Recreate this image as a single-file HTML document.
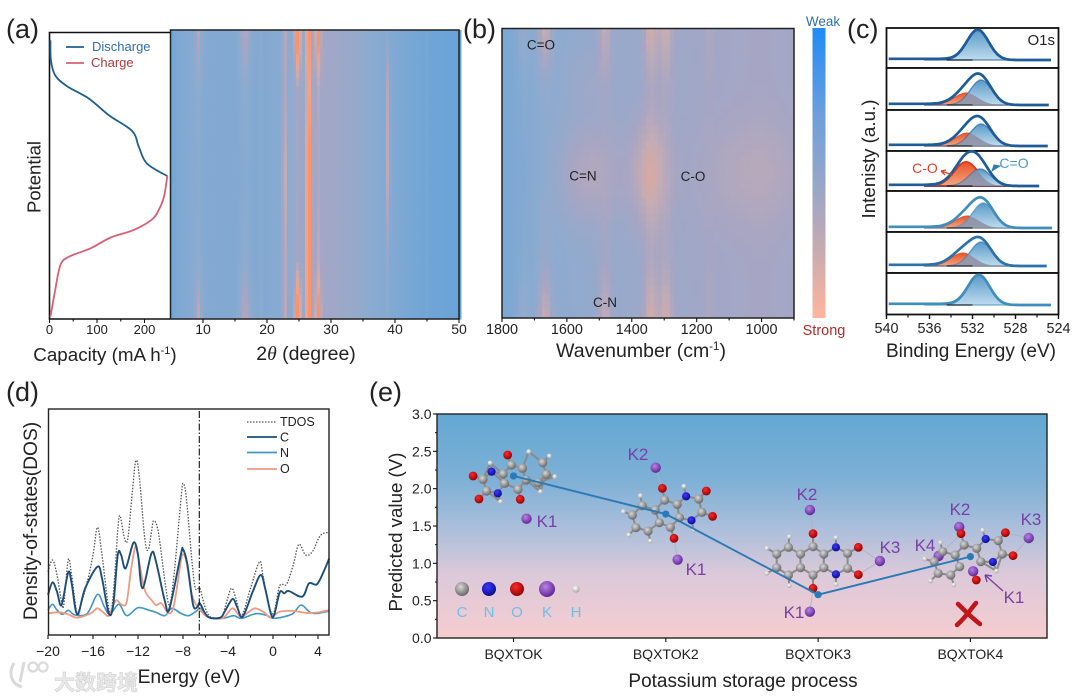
<!DOCTYPE html>
<html lang="en">
<head>
<meta charset="utf-8">
<title>Battery characterisation figure</title>
<style>
html,body{margin:0;padding:0;background:#fff;width:1074px;height:696px;overflow:hidden}
svg{display:block;font-family:"Liberation Sans","Noto Sans CJK SC",sans-serif}
</style>
</head>
<body>
<svg id="fig" xmlns="http://www.w3.org/2000/svg" width="1074" height="696" viewBox="0 0 1074 696">
<defs>
<linearGradient id="eBg" x1="0" y1="0" x2="0" y2="1"><stop offset="0" stop-color="#62a8d3"/><stop offset=".3" stop-color="#7fb0d6"/><stop offset=".5" stop-color="#a9bedb"/><stop offset=".72" stop-color="#dcc9da"/><stop offset="1" stop-color="#f6cdd0"/></linearGradient>
<linearGradient id="barGrad" x1="0" y1="0" x2="0" y2="1"><stop offset="0" stop-color="#1f8bf5"/><stop offset=".3" stop-color="#6d9fdc"/><stop offset=".55" stop-color="#9aa6c8"/><stop offset=".75" stop-color="#c3aab2"/><stop offset="1" stop-color="#ffb59c"/></linearGradient>
<linearGradient id="blueFill" x1="0" y1="0" x2="0" y2="1"><stop offset="0" stop-color="#5a9ac8"/><stop offset="1" stop-color="#bedbee"/></linearGradient>
<linearGradient id="orangeFill" x1="0" y1="0" x2="0" y2="1"><stop offset="0" stop-color="#e8542a"/><stop offset="1" stop-color="#f6a57f"/></linearGradient>
<radialGradient id="atomC" cx=".4" cy=".35" r=".7"><stop offset="0" stop-color="#d8d8d8"/><stop offset="1" stop-color="#606060"/></radialGradient>
<radialGradient id="atomN" cx=".4" cy=".35" r=".7"><stop offset="0" stop-color="#3a3aff"/><stop offset="1" stop-color="#08088a"/></radialGradient>
<radialGradient id="atomO" cx=".4" cy=".35" r=".7"><stop offset="0" stop-color="#ff2a2a"/><stop offset="1" stop-color="#8a0000"/></radialGradient>
<radialGradient id="atomK" cx=".4" cy=".35" r=".7"><stop offset="0" stop-color="#b884e6"/><stop offset="1" stop-color="#5a2090"/></radialGradient>
<radialGradient id="atomH" cx=".4" cy=".35" r=".7"><stop offset="0" stop-color="#ffffff"/><stop offset="1" stop-color="#a0a0a0"/></radialGradient>
</defs>

<g id="panelA">
  <text x="6" y="38" font-size="27" fill="#222">(a)</text>
  <g id="xrdHeat"></g>
  <rect x="170.5" y="30" width="288.5" height="289" fill="none" stroke="#222" stroke-width="1.5"/>
  <path d="M170 32.500H49.500V319H170" fill="none" stroke="#111" stroke-width="1.6"/>
  <g id="capCurves"></g>
  <line x1="66" y1="47" x2="84" y2="47" stroke="#1f5f8f" stroke-width="1.8"/>
  <text x="92" y="51" font-size="13" fill="#2f6fb0">Discharge</text>
  <line x1="66" y1="63" x2="84" y2="63" stroke="#d95f75" stroke-width="1.8"/>
  <text x="91" y="67" font-size="13" fill="#b23a3a">Charge</text>
  <text transform="translate(40.500,177) rotate(-90)" text-anchor="middle" font-size="18.500" fill="#222">Potential</text>
  <text x="105" y="361" text-anchor="middle" font-size="18.800" fill="#222">Capacity (mA h<tspan dy="-7" font-size="11">-1</tspan><tspan dy="7">)</tspan></text>
  <text x="306" y="360" text-anchor="middle" font-size="19.500" fill="#222">2<tspan font-style="italic" font-family="Liberation Serif, serif">θ</tspan> (degree)</text>
</g>

<g id="panelB">
  <text x="463" y="38" font-size="27" fill="#222">(b)</text>
  <g id="ftirHeat"></g>
  <rect x="502" y="28.500" width="292" height="289.500" fill="none" stroke="#222" stroke-width="1.5"/>
  <text x="541" y="49.500" text-anchor="middle" font-size="13.500" fill="#222">C=O</text>
  <text x="583" y="180.500" text-anchor="middle" font-size="13.500" fill="#222">C=N</text>
  <text x="693" y="181" text-anchor="middle" font-size="13.500" fill="#222">C-O</text>
  <text x="605" y="307" text-anchor="middle" font-size="13.500" fill="#222">C-N</text>
  <rect x="812.500" y="28" width="13" height="290" fill="url(#barGrad)"/>
  <text x="823" y="26" text-anchor="middle" font-size="13.500" fill="#2f6fb0">Weak</text>
  <text x="824" y="335" text-anchor="middle" font-size="14.500" fill="#b02a2a">Strong</text>
  <text x="641" y="357" text-anchor="middle" font-size="19.500" fill="#222">Wavenumber (cm<tspan dy="-7" font-size="11.500">-1</tspan><tspan dy="7">)</tspan></text>
</g>

<g id="panelC">
  <text x="847" y="38" font-size="27" fill="#222">(c)</text>
  <g id="xpsPanels"></g>
  <text x="1055" y="45" text-anchor="end" font-size="15" fill="#222">O1s</text>
  <text x="925" y="173" text-anchor="middle" font-size="14" fill="#d8432a">C-O</text>
  <path d="M953 175L941 171M941 171L946 170M941 171L945 175" fill="none" stroke="#d8432a" stroke-width="1.300"/>
  <text x="1014" y="168" text-anchor="middle" font-size="14" fill="#4a9ac8">C=O</text>
  <path d="M1000 166L992 171L994 165Z" fill="#2f7fb5" stroke="#2f7fb5"/>
  <text transform="translate(875,159) rotate(-90)" text-anchor="middle" font-size="18.800" fill="#222">Intenisty (a.u.)</text>
  <text x="971" y="357" text-anchor="middle" font-size="19" fill="#222">Binding Energy (eV)</text>
</g>

<g id="panelD">
  <text x="6" y="401" font-size="27" fill="#222">(d)</text>
  <g id="dosCurves"></g>
  <rect x="48.500" y="409" width="280.500" height="226" fill="none" stroke="#222" stroke-width="1.400"/>
  <line x1="199.300" y1="411" x2="199.300" y2="634" stroke="#111" stroke-width="1.100" stroke-dasharray="7 2 1.500 2"/>
  <line x1="247" y1="422" x2="277" y2="422" stroke="#555" stroke-width="1.300" stroke-dasharray="1.500 1.500"/>
  <text x="280" y="426" font-size="12.500" fill="#222">TDOS</text>
  <line x1="247" y1="437" x2="277" y2="437" stroke="#1b4f7a" stroke-width="1.800"/>
  <text x="280" y="441.500" font-size="12.500" fill="#222">C</text>
  <line x1="247" y1="452.500" x2="277" y2="452.500" stroke="#3f96c4" stroke-width="1.800"/>
  <text x="280" y="457" font-size="12.500" fill="#222">N</text>
  <line x1="247" y1="469" x2="277" y2="469" stroke="#f09a82" stroke-width="1.800"/>
  <text x="280" y="473" font-size="12.500" fill="#222">O</text>
  <text transform="translate(37,521) rotate(-90)" text-anchor="middle" font-size="19.200" fill="#222">Density-of-states(DOS)</text>
  <text x="189" y="683" text-anchor="middle" font-size="19.300" fill="#222">Energy (eV)</text>
</g>

<g id="panelE">
  <text x="369" y="401" font-size="27" fill="#222">(e)</text>
  <rect x="437" y="414" width="610" height="224" fill="url(#eBg)"/>
  <g id="molecules"></g>
  <rect x="437" y="414" width="610" height="224" fill="none" stroke="#222" stroke-width="1.400"/>
  <g id="voltageMarks"></g>
  <g fill="#7a3fa5" font-size="17" text-anchor="middle">
    <text x="547" y="527">K1</text>
    <text x="638" y="460">K2</text>
    <text x="696" y="575">K1</text>
    <text x="807" y="500">K2</text>
    <text x="890" y="553">K3</text>
    <text x="794" y="618">K1</text>
    <text x="960" y="515">K2</text>
    <text x="1031" y="525">K3</text>
    <text x="925" y="551">K4</text>
    <text x="1014" y="603">K1</text>
  </g>
  <path d="M1003 591L985 575M985 575L992 576M985 575L987 582" fill="none" stroke="#7a3fa5" stroke-width="1.400"/>
  <path d="M958 604C964 610 972 618 980 624M976 603C970 610 965 618 957 625" fill="none" stroke="#c0161a" stroke-width="4.500" stroke-linecap="round"/>
  <g font-size="15" fill="#6cc0e8" text-anchor="middle">
    <text x="462" y="617">C</text>
    <text x="489" y="617">N</text>
    <text x="517" y="617">O</text>
    <text x="547" y="617">K</text>
    <text x="576" y="617">H</text>
  </g>
  <text transform="translate(402,532) rotate(-90)" text-anchor="middle" font-size="18.700" fill="#222">Predicted value (V)</text>
  <text x="743" y="687" text-anchor="middle" font-size="19" fill="#222">Potassium storage process</text>
</g>

<g opacity=".85">
  <path d="M14 663C8 673 11 684 22 687M24 662L20 682" fill="none" stroke="#d4d4d4" stroke-width="3"/>
  <circle cx="33" cy="667" r="4.500" fill="none" stroke="#d4d4d4" stroke-width="2.200"/>
  <circle cx="43" cy="667" r="4.500" fill="none" stroke="#d4d4d4" stroke-width="2.200"/>
  <text x="54" y="690" font-size="21" font-weight="700" fill="#e6e6e6" stroke="#c4c4c4" stroke-width=".5" font-family="Noto Sans CJK SC, sans-serif">大数跨境</text>
</g>
</svg>

<script>
/* ---------- panel (a) capacity curves ---------- */
const dischargeCapacity=[2,3,12,37,83,125,174,188,205,248];
const dischargePotential=[.971,.901,.849,.811,.768,.710,.655,.600,.542,.498];
const chargeCapacity=[248,241,230,216,177,129,86,41,23,12,2];
const chargePotential=[.498,.426,.380,.347,.310,.284,.246,.217,.188,.101,.008];
const capacityTicks=[0,100,200];
const capacityMinorTicks=[50,150];
/* ---------- panel (a) XRD map ---------- */
const xrdThetaTicks=[10,20,30,40,50];
const xrdThetaMinorTicks=[15,25,35,45];
const xrdBaseTheta=[5,5.6,8,12,20,26,30,34,40,45,50];
const xrdBaseLevel=[.04,.16,.26,.22,.23,.36,.42,.35,.2,.08,.03];
const xrdPeakTheta=[9.3,16.6,19,22.7,24.8,26.5,28.0,39.0,38.7,45];
const xrdPeakWidth=[.35,.6,.2,.15,.32,.28,.28,.14,.1,.1];
const xrdPeakTopToBottom=[
 [.3,.08,.04,.08,.35],
 [.3,.08,.04,.1,.32],
 [.06,.05,.04,.05,.08],
 [.55,.45,.75,.55,.65],
 [1,.12,.1,.12,1],
 [.8,.55,.9,1,.85],
 [.85,.15,.1,.2,.85],
 [.03,.55,.7,.1,.03],
 [.03,.15,.1,.12,.1],
 [.05,.05,.05,.05,.05]];
const ftirStops=[0,.2,.5,.8,1];
/* ---------- panel (b) FTIR map ---------- */
const ftirTicks=[1800,1600,1400,1200,1000];
const ftirMinorTicks=[1700,1500,1300,1100,900];
const ftirBaseWave=[1800,1750,1700,1600,1400,1200,1000,900];
const ftirBaseLevel=[.17,.2,.27,.32,.37,.41,.44,.42];
const ftirBandWave=[1735,1667,1482,1340,1295,1160];
const ftirBandWidth=[14,15,13,14,14,8];
const ftirBandTopToBottom=[
 [.14,.04,0,.04,.14],
 [.32,.04,0,.08,.32],
 [.24,.04,0,.07,.24],
 [.3,.08,.04,.1,.3],
 [.26,.07,0,.08,.28],
 [.08,.03,0,.03,.07]];
const ftirBlobWave=[1530,1340,1020,1530];
const ftirBlobRow=[.5,.5,.5,.18];
const ftirBlobWaveWidth=[70,40,110,50];
const ftirBlobRowWidth=[.12,.12,.12,.08];
const ftirBlobAmp=[.16,.26,.09,.05];
/* ---------- panel (c) XPS ---------- */
const xpsTicks=[540,536,532,528,524];
const xpsMinorTicks=[538,534,530,526];
const xpsCdoubleOAmp=[30,25,22,17,25,24,30];
const xpsCdoubleOCenter=[531.5,531.2,531.2,531.3,531.0,531.2,531.4];
const xpsCOAmp=[0,12,13,24,12,13,0];
const xpsCOCenter=[532.5,532.6,532.5,532.6,532.5,532.9,532.5];
const xpsLineColor=['#1d5c98','#1d5c98','#1d5c98','#1d5c98','#3f8dbd','#2b72ab','#3f8dbd'];
const xpsPanelTop=[28,68,110,151,191,232,273];
const xpsPanelBase=[32,37,36,35,37,34,32];
const xpsEndEnergy=[524.6,524.8,524.9,525.7,524.5,525,524.6];
/* ---------- panel (d) DOS ---------- */
const dosTickLabels=[-20,-16,-12,-8,-4,0,4];
const dosMinorTicks=[-18,-14,-10,-6,-2,2];
const tdosEnergy=[-20,-19.6,-19.2,-18.8,-18.6,-18.2,-17.9,-17.4,-17,-16.5,-16,-15.6,-15.2,-14.6,-14.3,-14,-13.8,-13.6,-13.2,-12.9,-12.5,-12.2,-11.9,-11.4,-11.1,-10.8,-10.6,-10.2,-9.6,-9.2,-8.8,-8.2,-8,-7.7,-7.2,-6.9,-6.5,-6.1,-5.6,-4.6,-4.2,-3.7,-3.3,-2.8,-2,-1.2,-.9,-.3,.1,.6,1.2,1.8,2.3,2.9,3.5,4.2,4.9];
const tdosValues=[190,225,180,100,90,225,180,62,100,160,240,323,240,80,90,210,315,358,290,290,430,522,480,290,255,310,343,310,160,90,180,400,455,410,220,140,140,90,55,52,90,140,110,58,140,220,180,80,70,148,152,210,272,240,250,298,308];
const carbonEnergy=[-20,-19.6,-19.2,-18.8,-18.2,-17.9,-17.4,-16.7,-15.6,-15.2,-14.6,-14.2,-13.8,-13.5,-13.1,-12.4,-12,-11.6,-10.8,-10.4,-9.6,-9.2,-8.2,-8,-7.6,-7.1,-6.7,-6.5,-5.8,-4.7,-4.3,-3.6,-3.2,-2.7,-1.8,-1.1,-.7,-.2,.1,.6,1,1.4,2.6,3.2,3.9,4.5,5];
const carbonValues=[120,158,130,90,188,155,62,140,205,170,65,90,240,240,200,277,240,140,245,220,100,80,240,257,210,90,85,95,55,52,70,108,85,55,130,180,140,65,60,128,125,132,115,155,152,190,230];
const nitrogenEnergy=[-20,-19.6,-19.2,-18.7,-18.2,-17.6,-16.5,-15.6,-15,-14.5,-13.7,-13,-12,-11,-10.4,-9.6,-9,-8.2,-7.5,-6.8,-6.4,-5.8,-4.5,-3.5,-2.8,-1.5,-.5,0,1,1.8,2.5,3.3,4,5];
const nitrogenValues=[75,92,75,62,74,60,65,122,85,62,92,58,82,74,68,58,80,65,58,72,80,55,50,58,50,64,58,50,55,65,90,68,65,72];
const oxygenEnergy=[-20,-19,-18.2,-17.4,-16.2,-15.6,-15,-14.6,-14.2,-13.9,-13.4,-13,-12.6,-12.2,-11.9,-11.4,-10.8,-10.4,-9.9,-9.3,-8.8,-8.2,-8,-7.7,-7.2,-6.6,-5.8,-4.5,-3.6,-2.9,-2.2,-1.6,-.8,-.2,.6,1.8,3,4,5];
const oxygenValues=[65,68,62,52,65,80,65,58,90,104,90,100,200,268,220,135,105,90,95,65,90,220,242,220,120,80,55,50,80,55,68,80,68,52,70,72,66,68,75];
/* ---------- panel (e) voltage ---------- */
const voltageCategories=['BQXTOK','BQXTOK2','BQXTOK3','BQXTOK4'];
const voltageValues=[2.17,1.66,0.58,1.09];
const voltageTicks=['0.0','0.5','1.0','1.5','2.0','2.5','3.0'];
const voltageMinorTicks=[.25,.75,1.25,1.75,2.25,2.75];

const NS='http://www.w3.org/2000/svg';
function mk(tag,attrs,parent){
  const el=document.createElementNS(NS,tag);
  for(const k in attrs){el.setAttribute(k,attrs[k]);}
  parent.appendChild(el);
  return el;
}
function smooth(pts){
  let d='M'+pts[0][0].toFixed(2)+' '+pts[0][1].toFixed(2);
  for(let i=0;i<pts.length-1;i++){
    const p0=pts[Math.max(i-1,0)],p1=pts[i],p2=pts[i+1],p3=pts[Math.min(i+2,pts.length-1)];
    const c1x=p1[0]+(p2[0]-p0[0])/6,c1y=p1[1]+(p2[1]-p0[1])/6;
    const c2x=p2[0]-(p3[0]-p1[0])/6,c2y=p2[1]-(p3[1]-p1[1])/6;
    d+='C'+c1x.toFixed(2)+' '+c1y.toFixed(2)+' '+c2x.toFixed(2)+' '+c2y.toFixed(2)+' '+p2[0].toFixed(2)+' '+p2[1].toFixed(2);
  }
  return d;
}
function addCurve(parent,xs,ys,xf,yf,attrs,name){
  const pts=xs.map((v,i)=>[xf(v),yf(ys[i])]);
  const base={d:smooth(pts),fill:'none'};
  const el=mk('path',Object.assign(base,attrs),parent);
  
  
  return el;
}
function tickX(parent,vals,xf,y,len,name,width){
  vals.forEach(v=>{
    const el=mk('line',{x1:xf(v),x2:xf(v),y1:y,y2:y+len,stroke:'#111','stroke-width':width||1.1},parent);
    
    
  });
}
function tickLabelX(parent,vals,xf,y,size,name,fmt){
  vals.forEach(v=>{
    const el=mk('text',{x:xf(v),y:y,'text-anchor':'middle','font-size':size,fill:'#222'},parent);
    el.textContent=fmt?fmt(v):String(v);
    
    
  });
}
function lerpArr(xs,ys,x){
  if(xs[0]<xs[xs.length-1]){
    if(x<=xs[0])return ys[0];
    for(let i=1;i<xs.length;i++){if(x<=xs[i]){const t=(x-xs[i-1])/(xs[i]-xs[i-1]);return ys[i-1]+t*(ys[i]-ys[i-1]);}}
  }else{
    if(x>=xs[0])return ys[0];
    for(let i=1;i<xs.length;i++){if(x>=xs[i]){const t=(x-xs[i-1])/(xs[i]-xs[i-1]);return ys[i-1]+t*(ys[i]-ys[i-1]);}}
  }
  return ys[ys.length-1];
}
const ramp=[[0,[102,163,216]],[.3,[140,171,208]],[.45,[168,166,195]],[.6,[196,172,180]],[.8,[238,165,140]],[1,[250,146,106]]];
function color(v){
  v=Math.max(0,Math.min(1,v));
  for(let i=1;i<ramp.length;i++){
    if(v<=ramp[i][0]){
      const t=(v-ramp[i-1][0])/(ramp[i][0]-ramp[i-1][0]);
      const a=ramp[i-1][1],b=ramp[i][1];
      return 'rgb('+Math.round(a[0]+t*(b[0]-a[0]))+','+Math.round(a[1]+t*(b[1]-a[1]))+','+Math.round(a[2]+t*(b[2]-a[2]))+')';
    }
  }
  return '#fa926a';
}
const gauss=(d,s)=>Math.exp(-.5*d*d/(s*s));

/* panel a */
const capX=c=>49.5+c*.475;
const capY=v=>319-v*287;
const gA=document.getElementById('panelA');
const capG=document.getElementById('capCurves');
addCurve(capG,dischargeCapacity,dischargePotential,capX,capY,{stroke:'#1f5f8f','stroke-width':1.8},'discharge-curve');
addCurve(capG,chargeCapacity,chargePotential,capX,capY,{stroke:'#d95f75','stroke-width':1.8},'charge-curve');
tickX(gA,capacityTicks,capX,319,4,'capacity-major-tick');
tickX(gA,capacityMinorTicks,capX,319,2.5,'capacity-minor-tick');
tickLabelX(gA,capacityTicks,capX,334,13,'capacity-tick-label');
const thetaX=t=>203+(t-10)*6.4;
tickX(gA,xrdThetaTicks,thetaX,319,4,'two-theta-major-tick');
tickX(gA,xrdThetaMinorTicks,thetaX,319,2.5,'two-theta-minor-tick');
tickLabelX(gA,xrdThetaTicks,thetaX,334,14,'two-theta-tick-label');
const xrdG=document.getElementById('xrdHeat');
for(let c=0;c<97;c++){
  const px=170+c*3;
  const th=10+(px+1.5-203)/6.4;
  for(let r=0;r<36;r++){
    const rowT=(r+.5)/36;
    let v=lerpArr(xrdBaseTheta,xrdBaseLevel,th);
    xrdPeakTheta.forEach((p,i)=>{
      v+=lerpArr(ftirStops,xrdPeakTopToBottom[i],rowT)*gauss(th-p,xrdPeakWidth[i])*(1-v*.3);
    });
    const cell=mk('rect',{x:px,y:30+r*8.03,width:3.5,height:8.5,fill:color(v)},xrdG);
    
    
  }
}

/* panel b */
const waveX=w=>502+(1800-w)*292/900;
const gB=document.getElementById('panelB');
const ftirG=document.getElementById('ftirHeat');
for(let c=0;c<73;c++){
  const px=502+c*4;
  const w=1800-(px+2-502)*900/292;
  for(let r=0;r<36;r++){
    const rowT=(r+.5)/36;
    let v=lerpArr(ftirBaseWave,ftirBaseLevel,w);
    ftirBandWave.forEach((p,i)=>{
      v+=lerpArr(ftirStops,ftirBandTopToBottom[i],rowT)*gauss(w-p,ftirBandWidth[i]);
    });
    ftirBlobWave.forEach((p,i)=>{
      v+=ftirBlobAmp[i]*gauss(w-p,ftirBlobWaveWidth[i])*gauss(rowT-ftirBlobRow[i],ftirBlobRowWidth[i]);
    });
    const cell=mk('rect',{x:px,y:28.5+r*8.04,width:4.5,height:8.5,fill:color(v)},ftirG);
    
    
  }
}
tickX(gB,ftirTicks,waveX,318,4,'wavenumber-major-tick');
tickX(gB,ftirMinorTicks,waveX,318,2.5,'wavenumber-minor-tick');
tickLabelX(gB,ftirTicks,waveX,334,14.4,'wavenumber-tick-label');

/* panel c */
const beX=e=>886.5+(540-e)*10.75;
const xpsG=document.getElementById('xpsPanels');
function peakPath(energies,fn,base,close){
  const p=energies.map(e=>beX(e).toFixed(1)+' '+(base-fn(e)).toFixed(1));
  let d='M'+p.join('L');
  if(close){d+='L'+beX(energies[energies.length-1]).toFixed(1)+' '+base+'L'+beX(energies[0]).toFixed(1)+' '+base+'Z';}
  return d;
}
xpsPanelTop.forEach((top,i)=>{
  const next=i<6?xpsPanelTop[i+1]:314.5;
  const frame=mk('rect',{x:886.5,y:top,width:172,height:next-top,fill:'#fff',stroke:'#111','stroke-width':1.8},xpsG);
  
  
  const base=top+xpsPanelBase[i];
  const es=[];
  for(let e=539.8;e>=xpsEndEnergy[i];e-=.1){es.push(e);}
  const fA=e=>xpsCdoubleOAmp[i]*gauss(e-xpsCdoubleOCenter[i],1.0);
  const fB=e=>xpsCOAmp[i]*gauss(e-xpsCOCenter[i],1.1);
  const peakEs=es.filter(e=>e<536.5&&e>527);
  const env=e=>fA(e)+fB(e)+1.2*(e>531?Math.min(1,(e-531)/2):0);
  if(xpsCOAmp[i]>0){
    const co=mk('path',{d:peakPath(peakEs,fB,base,true),fill:'url(#orangeFill)',stroke:i===3?'#e23a1a':'#e2562c','stroke-width':i===3?2:1},xpsG);
    
    
  }
  const ce=mk('path',{d:peakPath(peakEs,fA,base,true),fill:'url(#blueFill)',stroke:xpsLineColor[i],'stroke-opacity':.6,'stroke-width':1.4},xpsG);
  
  
  if(xpsCOAmp[i]>0){
    const ov=mk('path',{d:peakPath(peakEs,e=>Math.min(fA(e),fB(e)),base,true),fill:'#8d8a9c','fill-opacity':.8},xpsG);
    
    
  }
  const line=mk('path',{d:peakPath(es,env,base,false),fill:'none',stroke:xpsLineColor[i],'stroke-width':2.7,'stroke-linejoin':'round'},xpsG);
  
  
  const shirley=mk('line',{x1:beX(534.4),x2:beX(532),y1:base,y2:base,stroke:'#111','stroke-width':.9},xpsG);
  
  
});
tickX(xpsG,xpsTicks,beX,315,4,'binding-energy-major-tick',1.4);
tickX(xpsG,xpsMinorTicks,beX,315,2.5,'binding-energy-minor-tick',1.2);
tickLabelX(xpsG,xpsTicks,beX,333,14.4,'binding-energy-tick-label');

/* panel d */
const enX=e=>273+e*11.25;
const dosY=u=>635-u/3;
const dosG=document.getElementById('dosCurves');
addCurve(dosG,tdosEnergy,tdosValues,enX,dosY,{stroke:'#555','stroke-width':1.3,'stroke-dasharray':'1.5 1.5'},'tdos-curve');
addCurve(dosG,nitrogenEnergy,nitrogenValues,enX,dosY,{stroke:'#3f96c4','stroke-width':1.6},'nitrogen-dos-curve');
addCurve(dosG,oxygenEnergy,oxygenValues,enX,dosY,{stroke:'#f09a82','stroke-width':1.8},'oxygen-dos-curve');
addCurve(dosG,carbonEnergy,carbonValues,enX,dosY,{stroke:'#1b4f7a','stroke-width':1.9},'carbon-dos-curve');
tickX(dosG,dosTickLabels,enX,635,4,'energy-major-tick');
tickX(dosG,dosMinorTicks,enX,635,2.5,'energy-minor-tick');
tickLabelX(dosG,dosTickLabels,enX,656,14,'energy-tick-label',v=>v<0?'\u2212'+Math.abs(v):String(v));

/* panel e */
const catX=i=>513.5+i*152.3;
const voltY=v=>638-v*74.67;
const gE=document.getElementById('panelE');
const markG=document.getElementById('voltageMarks');
const series=mk('polyline',{points:voltageValues.map((v,i)=>catX(i)+','+voltY(v)).join(' '),fill:'none',stroke:'#2a7ab5','stroke-width':1.9},markG);


voltageValues.forEach((v,i)=>{
  const pt=mk('circle',{cx:catX(i),cy:voltY(v),r:3.6,fill:'#2a7ab5'},markG);
  
  
});
voltageCategories.forEach((c,i)=>{
  const t=mk('line',{x1:catX(i),x2:catX(i),y1:638,y2:642,stroke:'#111','stroke-width':1.1},gE);
  
  
  const lab=mk('text',{x:catX(i),y:659,'text-anchor':'middle','font-size':14,fill:'#222'},gE);
  lab.textContent=c;
  
  
});
voltageTicks.forEach(s=>{
  const v=parseFloat(s);
  const t=mk('line',{x1:433,x2:437,y1:voltY(v),y2:voltY(v),stroke:'#111','stroke-width':1.1},gE);
  
  
  const lab=mk('text',{x:431.5,y:voltY(v)+5,'text-anchor':'end','font-size':14,fill:'#222'},gE);
  lab.textContent=s;
  
  
});
voltageMinorTicks.forEach(v=>{
  const t=mk('line',{x1:435,x2:437,y1:voltY(v),y2:voltY(v),stroke:'#111','stroke-width':1},gE);
  
  
});

/* molecule illustrations (decorative, traced in a stretched 3x crop space) */
const illustrationMolecules=[
 'O307,240 O230,303 O243,372 O335,373 N271,290 N285,355 K349,431 C315,270 C297,297 C252,313 C260,348 C300,325 C330,343 C348,315 C340,280 C385,263 C393,298 C375,323 H268,264 H354,230 H400,243 H412,305 H380,350 H291,380',
 'K637,278 K686,554 O652,340 O750,348 O764,424 O678,490 N705,364 N717,436 C657,375 C685,388 C733,372 C740,412 C690,428 C645,443 C670,457 C636,405 C607,392 C585,420 C593,458 C620,468 H603,362 H565,410 H577,480 H625,498 H722,465 H700,334',
 'K981,405 K1137,558 K981,710 O988,476 O1089,517 O1089,599 O988,640 N1039,517 N1039,598 C988,515 C1012,537 C1065,535 C1065,580 C1012,578 C988,600 C960,578 C960,537 C933,517 C907,537 C907,578 C933,600 H935,485 H885,520 H885,595 H935,632 H1039,488 H1039,628',
 'K1314,456 K1469,489 K1268,543 K1345,589 O1318,476 O1417,473 O1434,542 O1352,615 N1373,492 N1389,561 C1325,510 C1353,520 C1401,497 C1410,537 C1362,560 C1315,575 C1305,540 C1277,530 C1258,560 C1267,595 C1295,600 H1272,503 H1237,552 H1250,618 H1302,630 H1366,466 H1397,588'
];
const atomRadius={C:4.6,N:4.1,O:4.4,K:5.2,H:2.4};
const molG=document.getElementById('molecules');
illustrationMolecules.forEach(str=>{
  const atoms=str.split(' ').map(a=>{
    const p=a.slice(1).split(',');
    return {t:a[0],x:370+p[0]/2.23,y:375+p[1]/3};
  });
  atoms.forEach((a,i)=>{
    atoms.slice(i+1).forEach(b=>{
      const d=Math.hypot(a.x-b.x,a.y-b.y);
      const hasK=a.t==='K'||b.t==='K';
      const hasO=a.t==='O'||b.t==='O';
      const isBond=hasK?(hasO&&d<33):d<18.5;
      if(isBond&&!(a.t==='H'&&b.t==='H')){
        const bond=mk('line',{x1:a.x,y1:a.y,x2:b.x,y2:b.y,stroke:hasK?'#aeb2bd':'#8a8a8a','stroke-width':hasK?.8:2},molG);
        
        
      }
    });
  });
  atoms.forEach(a=>{
    const atom=mk('circle',{cx:a.x,cy:a.y,r:atomRadius[a.t],fill:'url(#atom'+a.t+')'},molG);
    
    
  });
});
const legendAtomTypes=['C','N','O','K','H'];
const legendAtomSizes=[7,7,7,8,3.8];
legendAtomTypes.forEach((t,i)=>{
  const atom=mk('circle',{cx:[462,489,517,547,576][i],cy:589,r:legendAtomSizes[i],fill:'url(#atom'+t+')'},molG);
  
  
});
</script>
</body>
</html>
